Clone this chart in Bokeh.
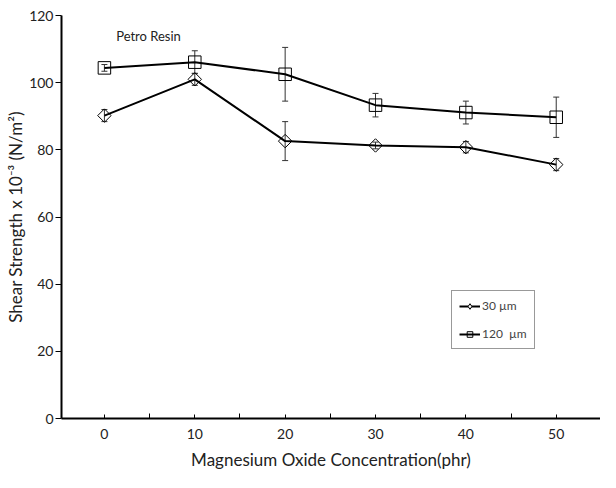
import math
from bokeh.plotting import figure
from bokeh.models import Range1d, FixedTicker, Whisker, ColumnDataSource, Legend, LegendItem, Label, TeeHead
from bokeh.embed import file_html
from bokeh.resources import INLINE

conc = [0, 10, 20, 30, 40, 50]
s30 = [90.2, 101.0, 82.6, 81.3, 80.8, 75.6]
e30 = [1.8, 1.8, 5.8, 1.0, 1.7, 1.8]
s120 = [104.4, 106.1, 102.5, 93.3, 91.1, 89.7]
e120 = [1.0, 3.4, 8.0, 3.5, 3.4, 6.0]
ticks_y = [0, 20, 40, 60, 80, 100, 120]

FONT = "Lato"
TXT = "#222222"

p = figure(width=600, height=472, output_backend="svg", toolbar_location=None,
           x_range=Range1d(-4.75, 54.9), y_range=Range1d(0, 120),
           min_border_left=61, min_border_right=0, min_border_top=15, min_border_bottom=53)
p.outline_line_color = None
p.xgrid.visible = False
p.ygrid.visible = False

# axes
p.xaxis.ticker = FixedTicker(ticks=conc, minor_ticks=[-5, 5, 15, 25, 35, 45, 55])
p.xaxis.major_tick_in = 4
p.xaxis.major_tick_out = 0
p.xaxis.minor_tick_in = 5
p.xaxis.minor_tick_out = 0
p.xaxis.axis_label = "Magnesium Oxide Concentration(phr)"
p.yaxis.ticker = FixedTicker(ticks=ticks_y)
p.yaxis.minor_tick_line_color = None
p.yaxis.major_tick_in = 0
p.yaxis.major_tick_out = 6
p.yaxis.axis_label = "Shear Strength x 10\u207b\u00b3 (N/m\u00b2)"
for ax in (p.xaxis[0], p.yaxis[0]):
    ax.axis_line_width = 2
    ax.axis_label_text_font = FONT
    ax.axis_label_text_font_style = "normal"
    ax.axis_label_text_font_size = "17px"
    ax.major_label_text_font = FONT
    ax.major_label_text_font_size = "14px"
    ax.axis_line_color = "black"
    ax.major_tick_line_color = "black"
    ax.major_label_text_color = TXT
    ax.axis_label_text_color = TXT
p.xaxis.minor_tick_line_color = "black"
p.xaxis.major_label_standoff = 10
p.xaxis.axis_label_standoff = 7
p.yaxis.major_label_standoff = 2
p.yaxis.axis_label_standoff = 0

src30 = ColumnDataSource(dict(x=conc, y=s30, lo=[a - b for a, b in zip(s30, e30)], hi=[a + b for a, b in zip(s30, e30)]))
src120 = ColumnDataSource(dict(x=conc, y=s120, lo=[a - b for a, b in zip(s120, e120)], hi=[a + b for a, b in zip(s120, e120)]))

for src in (src30, src120):
    w = Whisker(source=src, base="x", lower="lo", upper="hi", line_color="#333333", line_width=1,
                upper_head=TeeHead(size=6, line_color="#333333", line_width=1),
                lower_head=TeeHead(size=6, line_color="#333333", line_width=1))
    p.add_layout(w)

l30 = p.line("x", "y", source=src30, line_color="black", line_width=2)
m30 = p.scatter("x", "y", source=src30, marker="square", angle=math.pi / 4, size=9.5,
                fill_color="white", fill_alpha=0.0, line_color="black", line_width=1)
l120 = p.line("x", "y", source=src120, line_color="black", line_width=2)
m120 = p.scatter("x", "y", source=src120, marker="square", size=12.5, fill_color="white",
                 fill_alpha=0.0, line_color="black", line_width=1)

# legend-only marker (diamond shape, not drawn in the plot)
lg30 = p.scatter(x=[float("nan")], y=[float("nan")], marker="diamond", size=8,
                 fill_color="white", line_color="black", line_width=1)

legend = Legend(items=[LegendItem(label="30 \u00b5m", renderers=[l30, lg30]),
                       LegendItem(label="120  \u00b5m", renderers=[l120, m120])],
                location=(390, 69), border_line_color="#333333", border_line_width=1,
                label_text_font=FONT, label_text_font_size="12px", spacing=13,
                padding=7, margin=0, glyph_width=21, glyph_height=14, label_standoff=2,
                label_height=14, background_fill_color="white")
p.add_layout(legend, "center")

p.add_layout(Label(x=1.3, y=114, text="Petro Resin", text_font=FONT, text_font_size="13px",
                   text_color=TXT, text_baseline="middle"))

open("out.html", "w").write(file_html(p, INLINE))
